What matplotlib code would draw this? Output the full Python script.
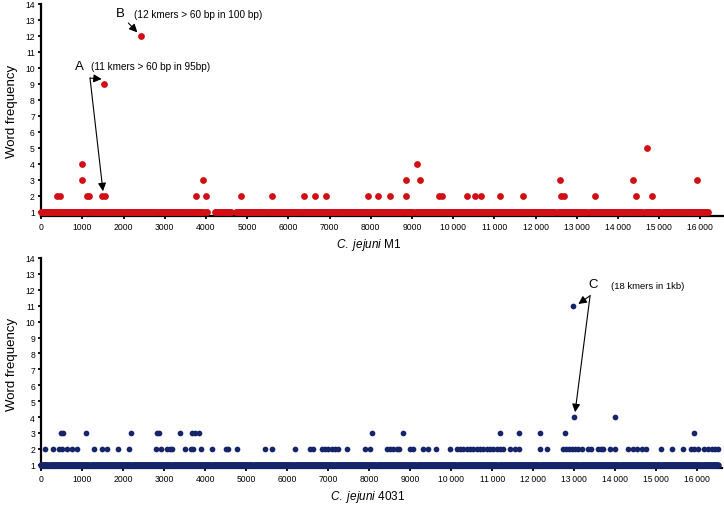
import numpy as np
import matplotlib
matplotlib.use("Agg")
import matplotlib.pyplot as plt

plt.rcParams['font.family'] = ['Liberation Sans', 'DejaVu Sans']
plt.rcParams['mathtext.fontset'] = 'custom'
plt.rcParams['mathtext.it'] = 'Liberation Sans:italic'
plt.rcParams['mathtext.rm'] = 'Liberation Sans'

# ---------------- data: C. jejuni M1 (top) ----------------
m1_baseline_segments = [(0, 3940), (4000, 4030), (4230, 4620), (4720, 9030), (9090, 10830),
                        (10880, 12490), (12540, 13260), (13310, 14590), (14650, 15040), (15090, 16190)]
m1_x = [380, 455, 1105, 1170, 1470, 1550, 3760, 4000, 4845, 5595, 6380, 6655, 6915, 7925,
        8170, 8475, 8855, 9655, 9720, 10330, 10530, 10675, 11140, 11695, 12620, 12690, 13450,
        14430, 14820,
        1000, 3930, 8855, 9190, 12585, 14360, 15910,
        1000, 9120,
        14705,
        1535,
        2415]
m1_y = [2] * 29 + [3] * 7 + [4] * 2 + [5] + [9] + [12]

# ---------------- data: C. jejuni 4031 (bottom) ----------------
c4031_baseline_segments = [(0, 16520)]
c4031_x2 = [90, 293, 439, 505, 634, 756, 878, 1293, 1488, 1610, 1863, 2146, 2790, 2912, 3058,
            3139, 3195, 3505, 3651, 3707, 3902, 4171, 4512, 4561, 4773, 5456, 5619, 6188, 6553,
            6634, 6839, 6920, 7000, 7083, 7163, 7244, 7449, 7895, 8017, 8424, 8505, 8586, 8668,
            8732, 8993, 9058, 9317, 9439, 9627, 9968, 10131, 10212, 10293, 10375, 10456, 10537,
            10618, 10700, 10781, 10862, 10943, 11025, 11106, 11187, 11270, 11432, 11554, 11651,
            12163, 12326, 12732, 12800, 12870, 12940, 13010, 13080, 13180, 13327, 13407, 13585,
            13651, 13707, 13871, 13993, 14317, 14424, 14529, 14644, 14741, 15107, 15376, 15659,
            15846, 15927, 16024, 16150, 16250, 16350, 16440, 16510]
c4031_x3 = [470, 520, 1083, 2195, 2815, 2880, 3383, 3676, 3757, 3838, 8074, 8815, 11190,
            11651, 12163, 12773, 15927]
c4031_x4 = [12985, 13993]
c4031_x11 = [12976]

xticks = list(range(0, 17000, 1000))
xticklabels = [f"{v // 1000}\u2009000" if v >= 10000 else str(v) for v in xticks]
yticks = list(range(1, 15))

RED = '#d10f16'
NAVY = '#16246a'
BASE_STEP = 25


def baseline(segments):
    xs = []
    for a, b in segments:
        xs.extend(np.arange(a, b + 1, BASE_STEP))
    return np.array(xs)


def style(ax, xmax, ymin, label):
    ax.set_xlim(0, xmax)
    ax.set_ylim(ymin, 14)
    for s in ['top', 'right']:
        ax.spines[s].set_visible(False)
    for s in ['left', 'bottom']:
        ax.spines[s].set_linewidth(1.6)
        ax.spines[s].set_color('black')
    ax.set_xticks(xticks)
    ax.set_xticklabels(xticklabels)
    ax.set_yticks(yticks)
    ax.tick_params(axis='both', direction='out', length=2.5, width=1.3, labelsize=6.2,
                   colors='black', pad=2)
    ax.set_ylabel('Word frequency', fontsize=9.5, labelpad=5)
    ax.set_xlabel(label, fontsize=8.5, labelpad=5)
    ax.xaxis.set_label_coords(0.48, -0.095)


fig = plt.figure(figsize=(7.24, 5.06), dpi=100)

# top panel
ax1 = fig.add_axes([41.1 / 724, 1 - 217 / 506, (723 - 41.1) / 724, (217 - 5) / 506])
bx = baseline(m1_baseline_segments)
ax1.scatter(bx, np.ones_like(bx), s=24, color=RED, linewidths=0, zorder=3, clip_on=False)
ax1.scatter(m1_x, m1_y, s=24, color=RED, linewidths=0, zorder=3, clip_on=False)
style(ax1, 16550, 0.75, r'$\it{C.\ jejuni}$ M1')

arrow = dict(arrowstyle='-|>', color='black', lw=0.8, mutation_scale=12, shrinkA=0, shrinkB=0)
ax1.text(1917, 13.44, 'B', fontsize=9.5, ha='center', va='center')
ax1.text(2255, 13.38, '(12 kmers > 60 bp in 100 bp)', fontsize=7.2, ha='left', va='center')
ax1.annotate('', xy=(2335, 12.23), xytext=(2119, 12.81), arrowprops=arrow)
ax1.text(920, 10.125, 'A', fontsize=9.5, ha='center', va='center')
ax1.text(1211, 10.125, '(11 kmers > 60 bp in 95bp)', fontsize=7.2, ha='left', va='center')
ax1.annotate('', xy=(1471, 9.31), xytext=(1187, 9.37), arrowprops=arrow)
ax1.annotate('', xy=(1502, 2.3), xytext=(1187, 9.37), arrowprops=arrow)

# bottom panel
ax2 = fig.add_axes([41.3 / 724, 1 - 469 / 506, (722 - 41.3) / 724, (469 - 259) / 506])
bx2 = baseline(c4031_baseline_segments)
ax2.scatter(bx2, np.ones_like(bx2), s=22, color=NAVY, linewidths=0, zorder=3, clip_on=False)
ax2.scatter(c4031_x2, [2] * len(c4031_x2), s=17, color=NAVY, linewidths=0, zorder=3)
ax2.scatter(c4031_x3, [3] * len(c4031_x3), s=17, color=NAVY, linewidths=0, zorder=3)
ax2.scatter(c4031_x4, [4] * len(c4031_x4), s=17, color=NAVY, linewidths=0, zorder=3)
ax2.scatter(c4031_x11, [11] * len(c4031_x11), s=17, color=NAVY, linewidths=0, zorder=3)
style(ax2, 16600, 0.8, r'$\it{C.\ jejuni}$ 4031')

ax2.text(13468, 12.37, 'C', fontsize=9.5, ha='center', va='center')
ax2.text(13895, 12.30, '(18 kmers in 1kb)', fontsize=6.8, ha='left', va='center')
ax2.annotate('', xy=(13097, 11.11), xytext=(13383, 11.63), arrowprops=arrow)
ax2.annotate('', xy=(13017, 4.31), xytext=(13383, 11.63), arrowprops=arrow)

fig.savefig('out.png', dpi=100)
